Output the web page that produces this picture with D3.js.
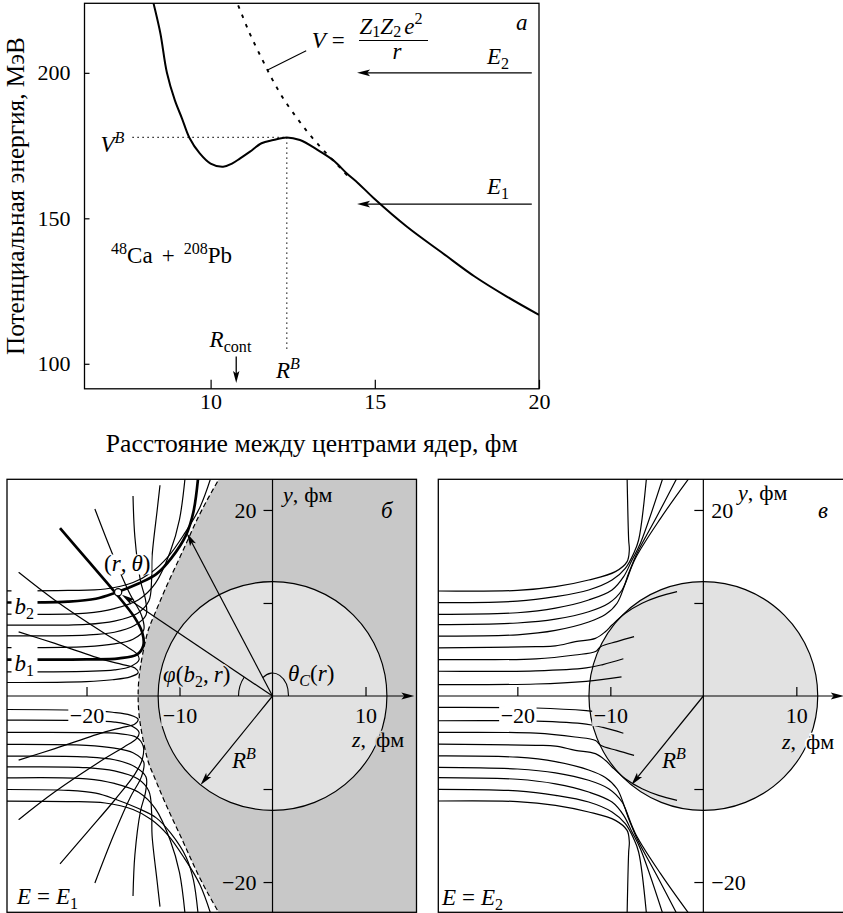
<!DOCTYPE html>
<html>
<head>
<meta charset="utf-8">
<script src="https://cdn.jsdelivr.net/npm/d3@7"></script>
<style>
  html, body { margin: 0; padding: 0; background: #fff; }
  svg { display: block; }
  svg text { font-family: "Liberation Serif", "DejaVu Serif", serif; fill: #000; }
</style>
</head>
<body>
<svg id="fig" width="843" height="913"></svg>
<script>
// ================= DATA =================
// --- panel а: potential energy vs distance between nuclei ---
const rTicks = [10, 15, 20];
const vTicks = [100, 150, 200];
const potR = [8.05, 8.26, 8.47, 8.67, 8.91, 9.13, 9.35, 9.67, 10.0, 10.38, 10.65, 10.9, 11.2, 11.55, 11.91, 12.32, 12.72, 13.23, 13.73, 14.14, 14.5, 14.97, 15.98, 17.07, 18.04, 19.02, 20.0];
const potV = [234, 224, 213.6, 200, 190.6, 184.3, 177.8, 172.3, 168.8, 167.7, 168.8, 170.6, 172.9, 175.8, 176.9, 177.8, 176.9, 173.7, 170.0, 165.5, 162.0, 156.9, 147.1, 138.0, 130.0, 123.1, 116.8];
const coulR = [10.6, 10.81, 11.19, 11.58, 11.89, 12.23, 12.64, 13.05, 13.51, 13.96, 14.2];
const coulV = [229.5, 224, 213.6, 204.4, 197.5, 190.9, 184.3, 178.3, 172.5, 167.2, 164.2];
const barrierR = 12.32, barrierV = 177.8;
const vbGuideStartR = 7.62, rbGuideEndV = 104.8;
const rCont = 10.78, rContArrowV = [102.5, 93.4];
const energyLevels = [154.9, 200];          // E1, E2
const energyArrowR = [19.78, 14.46];        // tail, tip
const leaderFrom = [11.72, 200.9], leaderTo = [12.91, 207.6];

// --- panels б, в: trajectories in (z, y) plane, fm ---
const fieldTicks = [-20, -10, 10, 20];
const zLabelTicks = [-20, -10, 10];
const yLabelTicks = [-20, 20];
const RB = 12.3;                 // barrier radius
// shadow (envelope) boundary for E = E1
const envY = [-24.5, -22.9, -19.6, -15.7, -11.8, -8.5, -6.4, -2.8, 0, 2.8, 6.4, 8.5, 11.8, 15.7, 19.6, 22.9, 24.5];
const envZ = [-5.1, -6.0, -7.8, -9.6, -11.4, -12.8, -13.55, -14.25, -14.45, -14.25, -13.55, -12.8, -11.4, -9.6, -7.8, -6.0, -5.1];
// E = E1 trajectories (upper half, mirrored for y<0)
const trajE1 = [
  [[-28.6,1.45],[-20,1.55],[-17.2,1.75],[-15.3,2.05],[-14.45,2.5],[-14.8,3.0],[-16.2,3.4],[-18,3.85],[-23.4,5.65],[-27.3,6.9]],
  [[-28.6,2.6],[-20,2.65],[-17,2.8],[-15.2,3.2],[-14.35,3.9],[-14.6,4.55],[-16,5.5],[-18,6.7],[-23.4,10.3],[-27.3,13.3]],
  [[-28.6,3.92],[-20,3.93],[-16.5,4.05],[-14.6,4.45],[-13.9,5.4],[-14.0,6.8],[-14.8,8.4],[-16.9,11.1],[-19.8,14.5],[-22.85,18.05]],
  [[-28.6,5.2],[-20,5.3],[-17,5.6],[-15,6.1],[-13.85,7.1],[-14.1,8.7],[-15.3,10.9],[-17.1,15.0],[-19.1,20.1]],
  [[-28.6,6.47],[-20,6.55],[-17,6.85],[-14.8,7.6],[-13.6,8.7],[-13.65,10.3],[-14.2,12.4],[-14.8,17.1],[-15.0,21.5]],
  [[-28.6,7.63],[-20,7.7],[-17,8.05],[-14.5,8.9],[-13.3,10.2],[-13.0,12.5],[-12.95,15.0],[-12.4,20.0],[-12.1,22.65]],
  [[-28.6,8.8],[-20,8.9],[-17,9.4],[-14.4,10.35],[-12.6,12.1],[-11.0,15.5],[-10.0,19.0],[-9.3,24.5]],
  [[-28.6,10.05],[-22,10.15],[-19,10.45],[-16.9,11.1],[-14.4,12.1],[-12.5,13.1],[-10.9,14.8],[-9.3,17.3],[-8.5,19.8],[-7.9,24.5]],
  [[-28.6,11.3],[-22,11.35],[-18,11.5],[-15,12.2],[-13,13.3],[-11.2,15.0],[-9.5,17.4],[-7.8,20.3],[-6.3,24.5]]
];
const thickE1 = [2, 7];          // b1, b2 (upper half only)
const pointRT = [-16.6, 11.15];  // (r, θ)
const touchPoint = [-9.2, 17.5]; // point on the envelope, θ_C(r)
const rbArrowEnd = [-7.74, -9.56];
// E = E2 trajectories (upper half, mirrored for y<0)
const trajE2 = [
  [[-28.6,1.22],[-18,1.29],[-12.6,1.58],[-8.8,2.05]],
  [[-28.6,2.66],[-18,2.7],[-12.6,3.02],[-10.8,3.38],[-8.6,4.0]],
  [[-28.6,3.92],[-18,4.0],[-13.8,4.41],[-11.6,4.78],[-11.05,5.3],[-9.3,5.85],[-7.45,6.38]],
  [[-28.6,5.18],[-18,5.3],[-15.9,5.38],[-13.76,5.84],[-11.61,6.2],[-10.54,6.91],[-9.82,7.63],[-8.39,8.89],[-6.59,9.97],[-4.81,10.68],[-2.83,11.22]],
  [[-28.6,6.44],[-20,6.58],[-15.9,7.05],[-12.33,7.95],[-10.54,8.75],[-9.28,9.97],[-8.39,12.1],[-7.3,14.8],[-4.6,19.1],[-1.4,23.6]],
  [[-28.6,7.67],[-20,7.85],[-15.9,8.26],[-12.33,9.06],[-10.18,9.97],[-8.74,11.4],[-8.03,13.19],[-7.13,15.34],[-5.0,19.3],[-2.75,23.6]],
  [[-28.6,8.77],[-20,8.95],[-15.9,9.44],[-12.33,10.32],[-9.82,11.4],[-8.57,12.83],[-7.67,14.62],[-6.77,16.42],[-4.3,23.6]],
  [[-28.6,10.03],[-20,10.2],[-15.9,10.68],[-12.33,11.4],[-9.82,12.47],[-8.39,13.73],[-7.49,15.34],[-6.96,16.77],[-6.1,23.6]],
  [[-28.6,11.29],[-20,11.35],[-15.9,11.75],[-12.33,12.47],[-9.46,13.37],[-8.2,14.45],[-7.96,15.7],[-8.03,16.77],[-8.2,23.6]]
];

// ================= DRAWING =================
const FS = 22;
const DARK = "#c8c8c8", LIGHT = "#e2e2e2";
const svg = d3.select("#fig");
const defs = svg.append("defs");
function addClip(id, x0, y0, x1, y1) {
  defs.append("clipPath").attr("id", id).append("rect")
    .attr("x", x0).attr("y", y0).attr("width", x1 - x0).attr("height", y1 - y0);
}
function bgRect(parent, node, fill, pad) {
  const bb = node.getBBox();
  d3.select(parent).insert("rect", () => node)
    .attr("x", bb.x - pad).attr("y", bb.y + bb.height * 0.14)
    .attr("width", bb.width + 2 * pad).attr("height", bb.height * 0.8).attr("fill", fill);
}
function rich(g, x, y, parts, opt = {}) {
  const size = opt.size || FS;
  const t = g.append("text").attr("x", x).attr("y", y).attr("font-size", size)
    .attr("text-anchor", opt.anchor || "start");
  let cur = 0;
  parts.forEach(p => {
    if (typeof p === "string") p = { t: p };
    const sh = p.sup ? -0.4 * size : p.sub ? (opt.subShift ?? 0.22) * size : 0;
    const s = t.append("tspan").text(p.t);
    if (sh !== cur) s.attr("dy", sh - cur);
    cur = sh;
    if (p.sup || p.sub) s.attr("font-size", size * 0.7);
    if (p.it) s.attr("font-style", "italic");
    if (p.dx) s.attr("dx", p.dx);
  });
  if (opt.halo) t.attr("stroke", opt.halo).attr("stroke-width", 3.5).attr("paint-order", "stroke").attr("stroke-linejoin", "round");
  if (opt.bg) bgRect(g.node(), t.node(), opt.bg, opt.pad ?? 1);
  if (opt.box) {
    const [bx, by, bw, bh] = opt.box;
    g.insert("rect", () => t.node()).attr("x", bx).attr("y", by).attr("width", bw).attr("height", bh).attr("fill", opt.boxFill || "#fff");
  }
  return t;
}
function arrowHead(g, tip, u, L = 13, w = 3.3) {
  const [tx, ty] = tip, [ux, uy] = u, nx = -uy, ny = ux;
  const bx = tx - ux * L, by = ty - uy * L;
  const mx = tx - ux * L * 0.78, my = ty - uy * L * 0.78;
  g.append("path").attr("fill", "#000")
    .attr("d", `M${tx},${ty}L${bx + nx * w},${by + ny * w}L${mx},${my}L${bx - nx * w},${by - ny * w}Z`);
}
function arrowTo(g, p0, p1, back = 0, sw = 1.2) {
  const dx = p1[0] - p0[0], dy = p1[1] - p0[1], L = Math.hypot(dx, dy);
  const u = [dx / L, dy / L];
  const tip = [p1[0] - u[0] * back, p1[1] - u[1] * back];
  g.append("line").attr("x1", p0[0]).attr("y1", p0[1])
    .attr("x2", tip[0] - u[0] * 9).attr("y2", tip[1] - u[1] * 9)
    .attr("stroke", "#000").attr("stroke-width", sw);
  arrowHead(g, tip, u);
}
const fmt = d => d < 0 ? "\u2212" + Math.abs(d) : String(d);

// ---------- Panel а ----------
const A = { l: 84.5, r: 539, t: 3.3, b: 388.8 };
const xA = d3.scaleLinear().domain([6.16, 20]).range([A.l, A.r]);
const yA = d3.scaleLinear().domain([91.4, 223.9]).range([A.b, A.t]);
const gA = svg.append("g");
addClip("clipA", A.l, A.t, A.r, A.b);
const lineA = d3.line().x(d => xA(d[0])).y(d => yA(d[1])).curve(d3.curveCatmullRom.alpha(0.5));
const plotA = gA.append("g").attr("clip-path", "url(#clipA)");
plotA.append("path").attr("d", lineA(d3.zip(coulR, coulV))).attr("fill", "none")
  .attr("stroke", "#000").attr("stroke-width", 1.9).attr("stroke-dasharray", "3.5 6.5");
plotA.append("path").attr("d", lineA(d3.zip(potR, potV))).attr("fill", "none")
  .attr("stroke", "#000").attr("stroke-width", 2).attr("stroke-linejoin", "round");
gA.append("line").attr("x1", xA(vbGuideStartR)).attr("x2", xA(barrierR))
  .attr("y1", yA(barrierV)).attr("y2", yA(barrierV))
  .attr("stroke", "#000").attr("stroke-width", 1.2).attr("stroke-dasharray", "1.3 3.7");
gA.append("line").attr("x1", xA(barrierR)).attr("x2", xA(barrierR))
  .attr("y1", yA(barrierV)).attr("y2", yA(rbGuideEndV))
  .attr("stroke", "#000").attr("stroke-width", 1.2).attr("stroke-dasharray", "1.3 3.7");
gA.append("line").attr("x1", xA(leaderFrom[0])).attr("y1", yA(leaderFrom[1]))
  .attr("x2", xA(leaderTo[0])).attr("y2", yA(leaderTo[1])).attr("stroke", "#000").attr("stroke-width", 1.1);
energyLevels.forEach(E => {
  const y = yA(E), x0 = xA(energyArrowR[0]), x1 = xA(energyArrowR[1]);
  gA.append("line").attr("x1", x0).attr("x2", x1 + 9).attr("y1", y).attr("y2", y)
    .attr("stroke", "#000").attr("stroke-width", 1.3);
  arrowHead(gA, [x1, y], [-1, 0], 13, 3.4);
});
{
  const x = xA(rCont), y0 = yA(rContArrowV[0]), y1 = yA(rContArrowV[1]);
  gA.append("line").attr("x1", x).attr("x2", x).attr("y1", y0).attr("y2", y1 - 9)
    .attr("stroke", "#000").attr("stroke-width", 1.3);
  arrowHead(gA, [x, y1], [0, 1], 12, 3.2);
}
const axAL = d3.axisLeft(yA).tickValues(vTicks).tickSizeInner(-5).tickSizeOuter(0).tickPadding(14);
const axAB = d3.axisBottom(xA).tickValues(rTicks).tickSizeInner(-9).tickSizeOuter(0).tickPadding(5);
gA.append("g").attr("transform", `translate(${A.l},0)`).call(axAL)
  .call(g => g.select(".domain").remove()).attr("font-size", FS).attr("font-family", null);
gA.append("g").attr("transform", `translate(0,${A.b})`).call(axAB)
  .call(g => g.select(".domain").remove()).attr("font-size", FS).attr("font-family", null);
gA.selectAll(".tick line").attr("stroke-width", 1.2);
gA.append("rect").attr("x", A.l).attr("y", A.t).attr("width", A.r - A.l).attr("height", A.b - A.t)
  .attr("fill", "none").attr("stroke", "#000").attr("stroke-width", 1.3);
function fitWidth(t, w) {
  const cur = t.node().getComputedTextLength();
  t.attr("font-size", parseFloat(t.attr("font-size")) * w / cur);
}
const xTitle = gA.append("text").attr("x", 311.7).attr("y", 452).attr("text-anchor", "middle")
  .attr("font-size", FS).text("Расстояние между центрами ядер, фм");
fitWidth(xTitle, 412);
const yTitle = gA.append("text").attr("transform", "translate(24,196) rotate(-90)")
  .attr("text-anchor", "middle").attr("font-size", FS).text("Потенциальная энергия, МэВ");
fitWidth(yTitle, 318);
rich(gA, 100.4, 152, [{ t: "V", it: 1 }, { t: "B", it: 1, sup: 1 }], { size: 23 });
rich(gA, 276, 378, [{ t: "R", it: 1 }, { t: "B", it: 1, sup: 1 }], { size: 23 });
rich(gA, 209.6, 347, [{ t: "R", it: 1 }, { t: "cont", sub: 1 }], { size: 23 });
rich(gA, 487, 64, [{ t: "E", it: 1 }, { t: "2", sub: 1 }], { size: 23 });
rich(gA, 487, 194, [{ t: "E", it: 1 }, { t: "1", sub: 1 }], { size: 23 });
rich(gA, 516, 30, [{ t: "а", it: 1 }], { size: 23 });
rich(gA, 311.7, 48, [{ t: "V", it: 1 }, { t: "=", dx: 6 }], { size: 23 });
rich(gA, 359.5, 33.5, [{ t: "Z", it: 1 }, { t: "1", sub: 1 }, { t: "Z", it: 1 }, { t: "2", sub: 1 }, { t: "e", it: 1, dx: 3 }, { t: "2", sup: 1 }], { subShift: 0.16, size: 23 });
gA.append("line").attr("x1", 359).attr("x2", 428).attr("y1", 40.5).attr("y2", 40.5).attr("stroke", "#000").attr("stroke-width", 1);
rich(gA, 392.5, 59, [{ t: "r", it: 1 }], { size: 23 });
rich(gA, 111, 263, [{ t: "48", sup: 1 }, "Ca", { t: "+", dx: 9 }, { t: "208", sup: 1, dx: 9 }, "Pb"], { size: 23 });

// ---------- Panel б ----------
const B = { l: 7, r: 416.5, t: 479.3, b: 912.3 };
const xB = d3.scaleLinear().domain([-28.55, 15.45]).range([7, 416.2]);
const yB = d3.scaleLinear().domain([-23.35, 23.35]).range([913.2, 478.8]);
{
  const g = svg.append("g");
  addClip("clipB", B.l, B.t, B.r, B.b);
  const p = g.append("g").attr("clip-path", "url(#clipB)");
  const envLine = d3.line().x(d => xB(d[0])).y(d => yB(d[1])).curve(d3.curveNatural);
  const envPts = d3.zip(envZ, envY);
  p.append("path").attr("d", envLine(envPts) +
      `L${B.r + 5},${yB(envY[envY.length - 1])}L${B.r + 5},${yB(envY[0])}Z`).attr("fill", DARK);
  p.append("circle").attr("cx", xB(0)).attr("cy", yB(0)).attr("r", xB(RB) - xB(0))
    .attr("fill", LIGHT).attr("stroke", "#000").attr("stroke-width", 1.2);
  const trajLine = d3.line().x(d => xB(d[0])).y(d => yB(d[1])).curve(d3.curveCatmullRom.alpha(0.5));
  trajE1.forEach(tr => {
    p.append("path").attr("d", trajLine(tr.map(([z, y]) => [z, -y]))).attr("fill", "none")
      .attr("stroke", "#000").attr("stroke-width", 1.2);
  });
  trajE1.forEach((tr, i) => {
    p.append("path").attr("d", trajLine(tr)).attr("fill", "none")
      .attr("stroke", "#000").attr("stroke-width", thickE1.includes(i) ? 2.7 : 1.2);
  });
  p.append("path").attr("d", envLine(envPts)).attr("fill", "none").attr("stroke", "#000")
    .attr("stroke-width", 1.2).attr("stroke-dasharray", "5 3");
  const o = [xB(0), yB(0)];
  g.append("line").attr("x1", B.l).attr("x2", xB(15.25) - 9).attr("y1", o[1]).attr("y2", o[1])
    .attr("stroke", "#000").attr("stroke-width", 1.2);
  arrowHead(g, [xB(15.25), o[1]], [1, 0], 13, 3.4);
  g.append("line").attr("x1", o[0]).attr("x2", o[0]).attr("y1", B.t).attr("y2", B.b)
    .attr("stroke", "#000").attr("stroke-width", 1.2);
  const axX = g.append("g").attr("transform", `translate(0,${o[1]})`)
    .call(d3.axisBottom(xB).tickValues(zLabelTicks).tickSizeInner(-9).tickSizeOuter(0).tickPadding(11).tickFormat(fmt))
    .call(s => s.select(".domain").remove()).attr("font-size", FS).attr("font-family", null);
  axX.selectAll(".tick text").each(function (d) { bgRect(this.parentNode, this, d === -20 ? "#fff" : LIGHT, 1.5); });
  g.append("g").attr("transform", `translate(${o[0]},0)`)
    .call(d3.axisLeft(yB).tickValues(fieldTicks).tickSize(9).tickPadding(7)
      .tickFormat(d => yLabelTicks.includes(d) ? fmt(d) : ""))
    .call(s => s.select(".domain").remove()).attr("font-size", FS).attr("font-family", null);
  g.selectAll(".tick line").attr("stroke-width", 1.2);
  const dotPx = [xB(pointRT[0]), yB(pointRT[1])];
  const touchPx = [xB(touchPoint[0]), yB(touchPoint[1])];
  const aDot = Math.atan2(dotPx[1] - o[1], dotPx[0] - o[0]);
  const ap = d3.path(); ap.arc(o[0], o[1], 34, -Math.PI, aDot, false);
  g.append("path").attr("d", ap.toString()).attr("fill", "none").attr("stroke", "#000").attr("stroke-width", 1.1);
  const tEnd = 127 * Math.PI / 180;
  g.append("path").attr("d", `M${o[0] + 16},${o[1]}A16,23 0 0,0 ${o[0] + 16 * Math.cos(tEnd)},${o[1] - 23 * Math.sin(tEnd)}`)
    .attr("fill", "none").attr("stroke", "#000").attr("stroke-width", 1.1);
  arrowTo(g, o, dotPx, 4.5);
  arrowTo(g, o, touchPx, 0);
  arrowTo(g, o, [xB(rbArrowEnd[0]), yB(rbArrowEnd[1])], 0);
  g.append("circle").attr("cx", dotPx[0]).attr("cy", dotPx[1]).attr("r", 3.6)
    .attr("fill", "#fff").attr("stroke", "#000").attr("stroke-width", 1.2);
  rich(g, 14.5, 614, [{ t: "b", it: 1 }, { t: "2", sub: 1 }], { box: [11.5, 590, 26, 27], size: 23 });
  rich(g, 14.5, 671, [{ t: "b", it: 1 }, { t: "1", sub: 1 }], { box: [11.5, 647, 26, 27], size: 23 });
  rich(g, 104, 571, ["(", { t: "r", it: 1 }, ",", { t: "θ", it: 1, dx: 5 }, ")"], { bg: "#fff", pad: 1, size: 23 });
  rich(g, 163, 682, [{ t: "φ", it: 1 }, "(", { t: "b", it: 1 }, { t: "2", sub: 1 }, ",", { t: "r", it: 1, dx: 5 }, ")"], { halo: LIGHT, size: 23 });
  rich(g, 288, 681, [{ t: "θ", it: 1 }, { t: "C", it: 1, sub: 1 }, "(", { t: "r", it: 1 }, ")"], { size: 23 });
  rich(g, 232, 768, [{ t: "R", it: 1 }, { t: "B", it: 1, sup: 1 }], { size: 23 });
  rich(g, 352, 747, [{ t: "z", it: 1 }, ","], { halo: LIGHT });
  rich(g, 376, 747, ["фм"], { halo: DARK });
  rich(g, 283, 502, [{ t: "y", it: 1 }, ",", { t: "фм", dx: 6 }]);
  rich(g, 381, 518, [{ t: "б", it: 1 }], { size: 23 });
  rich(g, 17, 904, [{ t: "E", it: 1 }, { t: "=", dx: 6 }, { t: "E", it: 1, dx: 6 }, { t: "1", sub: 1 }], { bg: "#fff", pad: 1, size: 23 });
  g.append("rect").attr("x", B.l).attr("y", B.t).attr("width", B.r - B.l).attr("height", B.b - B.t)
    .attr("fill", "none").attr("stroke", "#000").attr("stroke-width", 1.3);
}

// ---------- Panel в ----------
const C = { l: 438.3, r: 845, t: 479.3, b: 912.3 };
const xC = d3.scaleLinear().domain([-28.5, 15.2]).range([438.3, 844.7]);
const yC = d3.scaleLinear().domain([-23.35, 23.35]).range([913.2, 478.8]);
{
  const g = svg.append("g");
  addClip("clipC", C.l, C.t, C.r, C.b);
  const p = g.append("g").attr("clip-path", "url(#clipC)");
  p.append("circle").attr("cx", xC(0)).attr("cy", yC(0)).attr("r", xC(RB) - xC(0))
    .attr("fill", LIGHT).attr("stroke", "#000").attr("stroke-width", 1.2);
  const trajLine = d3.line().x(d => xC(d[0])).y(d => yC(d[1])).curve(d3.curveCatmullRom.alpha(0.5));
  trajE2.forEach(tr => {
    p.append("path").attr("d", trajLine(tr)).attr("fill", "none").attr("stroke", "#000").attr("stroke-width", 1.2);
    p.append("path").attr("d", trajLine(tr.map(([z, y]) => [z, -y]))).attr("fill", "none").attr("stroke", "#000").attr("stroke-width", 1.2);
  });
  const o = [xC(0), yC(0)];
  g.append("line").attr("x1", C.l).attr("x2", xC(15.1) - 9).attr("y1", o[1]).attr("y2", o[1])
    .attr("stroke", "#000").attr("stroke-width", 1.2);
  arrowHead(g, [xC(15.1), o[1]], [1, 0], 13, 3.4);
  g.append("line").attr("x1", o[0]).attr("x2", o[0]).attr("y1", C.t).attr("y2", C.b)
    .attr("stroke", "#000").attr("stroke-width", 1.2);
  const axX = g.append("g").attr("transform", `translate(0,${o[1]})`)
    .call(d3.axisBottom(xC).tickValues(zLabelTicks).tickSizeInner(-9).tickSizeOuter(0).tickPadding(11).tickFormat(fmt))
    .call(s => s.select(".domain").remove()).attr("font-size", FS).attr("font-family", null);
  axX.selectAll(".tick text").each(function (d) { bgRect(this.parentNode, this, d === -20 ? "#fff" : LIGHT, 1.5); });
  g.append("g").attr("transform", `translate(${o[0]},0)`)
    .call(d3.axisRight(yC).tickValues(fieldTicks).tickSizeInner(-9).tickSizeOuter(0).tickPadding(8)
      .tickFormat(d => yLabelTicks.includes(d) ? fmt(d) : ""))
    .call(s => s.select(".domain").remove()).attr("font-size", FS).attr("font-family", null);
  g.selectAll(".tick line").attr("stroke-width", 1.2);
  arrowTo(g, o, [xC(rbArrowEnd[0]), yC(rbArrowEnd[1])], 0);
  rich(g, 662, 768, [{ t: "R", it: 1 }, { t: "B", it: 1, sup: 1 }], { size: 23 });
  rich(g, 782, 749, [{ t: "z", it: 1 }, ","], { halo: LIGHT });
  rich(g, 806, 749, ["фм"], { halo: "#fff" });
  rich(g, 738, 500, [{ t: "y", it: 1 }, ",", { t: "фм", dx: 6 }]);
  rich(g, 818, 518, [{ t: "в", it: 1 }], { size: 23 });
  rich(g, 442, 905, [{ t: "E", it: 1 }, { t: "=", dx: 6 }, { t: "E", it: 1, dx: 6 }, { t: "2", sub: 1 }], { bg: "#fff", pad: 1, size: 23 });
  g.append("rect").attr("x", C.l).attr("y", C.t).attr("width", C.r - C.l).attr("height", C.b - C.t)
    .attr("fill", "none").attr("stroke", "#000").attr("stroke-width", 1.3);
}
</script>
</body>
</html>
